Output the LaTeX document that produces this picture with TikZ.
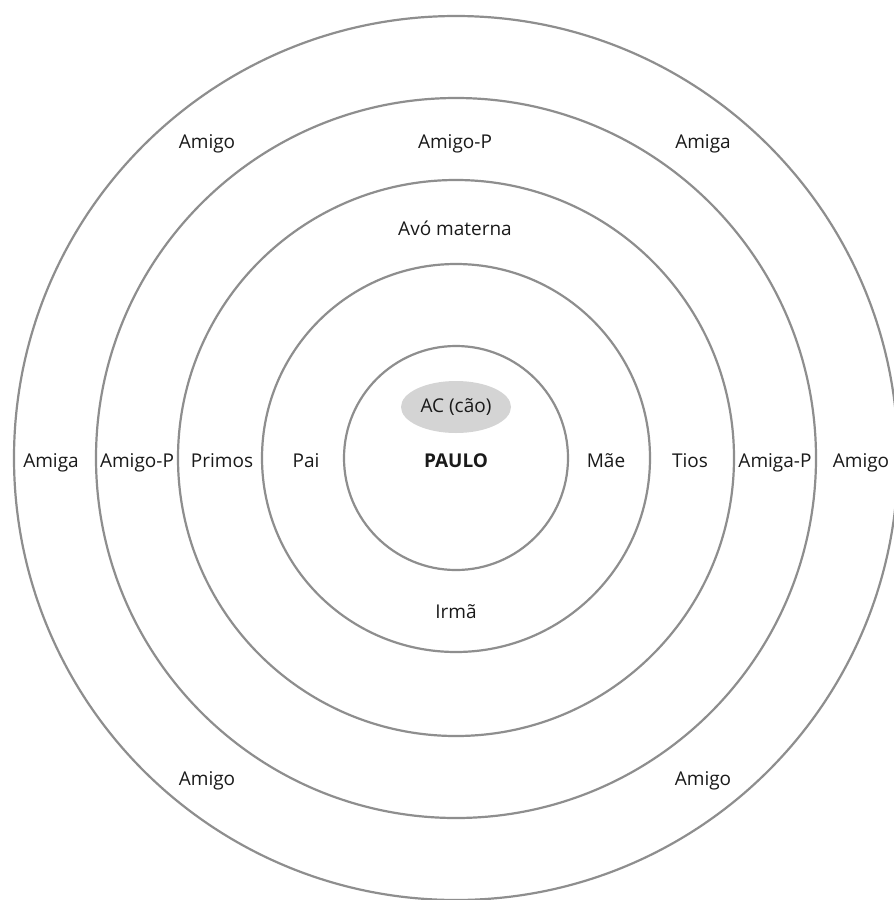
\documentclass[tikz,border=0pt]{standalone}
\usepackage{fontspec}
\setmainfont{Open Sans}
\usetikzlibrary{shapes.geometric}
\definecolor{ringgray}{HTML}{8E8E8E}
\definecolor{txtgray}{HTML}{1A1A1A}
\definecolor{acfill}{HTML}{D4D4D4}
\begin{document}
\begin{tikzpicture}[x=1pt,y=-1pt,
  ring/.style={draw=ringgray, line width=2.2pt, circle, minimum size=#1, inner sep=0pt},
  lbl/.style={text=txtgray, font=\fontsize{19}{23}\selectfont, inner sep=0pt, anchor=base},
]
\useasboundingbox (0,0) rectangle (894,900);
\clip (0,0) rectangle (894,900);
\fill[white] (0,0) rectangle (894,900);
\coordinate (c) at (456,458);
\node[ring=884pt] (r5) at (c) {};
\node[ring=720pt] (r4) at (c) {};
\node[ring=556pt] (r3) at (c) {};
\node[ring=388pt] (r2) at (c) {};
\node[ring=224pt] (r1) at (c) {};
% ellipse
\node[ellipse, fill=acfill, minimum width=110pt, minimum height=52pt, inner sep=0pt,
      text=txtgray, font=\fontsize{19}{23}\selectfont] (ac) at (456,407) {AC (cão)};
% middle row
\node[lbl] (amigaL) at (51,467) {Amiga};
\node[lbl] (amigopL) at (137,467) {Amigo-P};
\node[lbl] (primos) at (222,467) {Primos};
\node[lbl] (pai) at (306,467) {Pai};
\node[lbl, font=\fontsize{19}{23}\selectfont\bfseries] (paulo) at (456,467) {PAULO};
\node[lbl] (mae) at (606,467) {Mãe};
\node[lbl] (tios) at (690,467) {Tios};
\node[lbl] (amigapR) at (775,467) {Amiga-P};
\node[lbl] (amigoR) at (861,467) {Amigo};
% top row
\node[lbl] (amigoTL) at (207,148) {Amigo};
\node[lbl] (amigopT) at (455,148) {Amigo-P};
\node[lbl] (amigaTR) at (703,148) {Amiga};
\node[lbl] (avo) at (455,235) {Avó materna};
% bottom
\node[lbl] (irma) at (456,618) {Irmã};
\node[lbl] (amigoBL) at (207,785) {Amigo};
\node[lbl] (amigoBR) at (703,785) {Amigo};
\end{tikzpicture}
\end{document}
